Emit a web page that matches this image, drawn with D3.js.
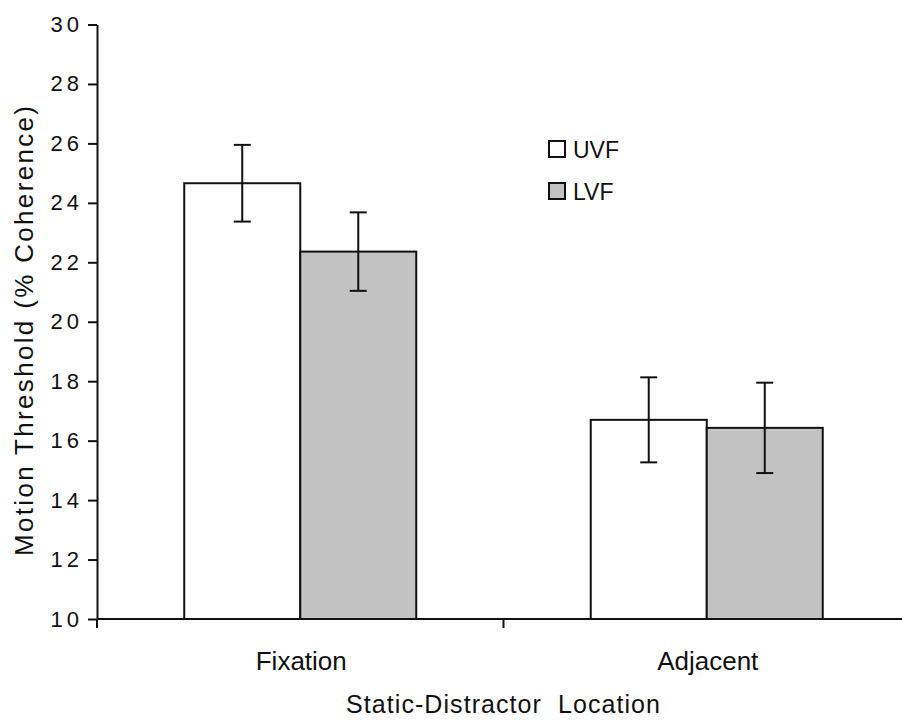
<!DOCTYPE html>
<html>
<head>
<meta charset="utf-8">
<script src="https://cdn.jsdelivr.net/npm/d3@7"></script>
<style>
  html, body { margin: 0; padding: 0; background: #fff; }
  svg { display: block; }
  text { font-family: "Liberation Sans", Arial, Helvetica, sans-serif; fill: #111; }
</style>
</head>
<body>
<svg id="chart" width="902" height="722"></svg>
<script>
// Motion thresholds by static-distractor location and visual field
const categories = ["Fixation", "Adjacent"];
const seriesNames = ["UVF", "LVF"];
const uvfValues = [24.66, 16.70];
const lvfValues = [22.36, 16.43];
const uvfErrors = [1.29, 1.43];
const lvfErrors = [1.32, 1.52];
const yTicks = [10, 12, 14, 16, 18, 20, 22, 24, 26, 28, 30];
const seriesFill = ["#ffffff", "#c2c2c2"];

const rows = categories.map((c, i) => ({
  category: c,
  bars: [
    { series: seriesNames[0], value: uvfValues[i], err: uvfErrors[i] },
    { series: seriesNames[1], value: lvfValues[i], err: lvfErrors[i] }
  ]
}));

const svg = d3.select("#chart");
const plotLeft = 97, plotRight = 910, plotTop = 24.5, plotBottom = 619;

const x0 = d3.scaleBand().domain(categories).range([plotLeft, plotRight]).paddingInner(0).paddingOuter(0);
const x1 = d3.scaleBand().domain(seriesNames).range([0, x0.bandwidth()]).paddingInner(0).paddingOuter(0.752);
const y = d3.scaleLinear().domain([10, 30]).range([plotBottom, plotTop]);
const fill = d3.scaleOrdinal().domain(seriesNames).range(seriesFill);

// bars
const groups = svg.append("g").selectAll("g").data(rows).join("g")
  .attr("transform", d => `translate(${x0(d.category)},0)`);

groups.selectAll("rect").data(d => d.bars).join("rect")
  .attr("x", d => x1(d.series))
  .attr("y", d => y(d.value))
  .attr("width", x1.bandwidth())
  .attr("height", d => y(10) - y(d.value))
  .attr("fill", d => fill(d.series))
  .attr("stroke", "#111")
  .attr("stroke-width", 2);

// error bars
const eb = groups.selectAll("g.err").data(d => d.bars).join("g").attr("class", "err")
  .attr("stroke", "#111").attr("stroke-width", 2);
const cx = d => x1(d.series) + x1.bandwidth() / 2;
eb.append("line").attr("x1", cx).attr("x2", cx)
  .attr("y1", d => y(d.value + d.err)).attr("y2", d => y(d.value - d.err));
eb.append("line").attr("x1", d => cx(d) - 8.5).attr("x2", d => cx(d) + 8.5)
  .attr("y1", d => y(d.value + d.err)).attr("y2", d => y(d.value + d.err));
eb.append("line").attr("x1", d => cx(d) - 8.5).attr("x2", d => cx(d) + 8.5)
  .attr("y1", d => y(d.value - d.err)).attr("y2", d => y(d.value - d.err));

// y axis
const yAxis = svg.append("g").attr("transform", `translate(${plotLeft},0)`)
  .call(d3.axisLeft(y).tickValues(yTicks).tickSize(9).tickPadding(5).tickSizeOuter(0));
yAxis.select(".domain").attr("stroke", "#111").attr("stroke-width", 2);
yAxis.selectAll(".tick line").attr("stroke", "#111").attr("stroke-width", 2);
yAxis.selectAll(".tick text")
  .attr("font-size", 22).attr("letter-spacing", "4px").attr("fill", "#111")
  .style("font-family", "'Liberation Sans', Arial, sans-serif");

// x axis: ticks at category boundaries
const xAxis = svg.append("g").attr("transform", `translate(0,${plotBottom})`);
xAxis.append("line").attr("x1", plotLeft).attr("x2", plotRight).attr("y1", 0).attr("y2", 0)
  .attr("stroke", "#111").attr("stroke-width", 2);
const boundaries = [x0(categories[0]), x0(categories[1]), x0(categories[1]) + x0.bandwidth()];
xAxis.selectAll("line.tk").data(boundaries).join("line").attr("class", "tk")
  .attr("x1", d => d).attr("x2", d => d).attr("y1", 0).attr("y2", 9)
  .attr("stroke", "#111").attr("stroke-width", 2);
xAxis.selectAll("text").data(categories).join("text")
  .attr("x", d => x0(d) + x0.bandwidth() / 2 + 1)
  .attr("y", 51)
  .attr("text-anchor", "middle")
  .attr("font-size", 26)
  .text(d => d);

// axis titles
svg.append("text")
  .attr("x", 503).attr("y", 713)
  .attr("text-anchor", "middle")
  .attr("font-size", 25)
  .attr("textLength", 314).attr("lengthAdjust", "spacing")
  .attr("xml:space", "preserve")
  .text("Static-Distractor  Location");

svg.append("text")
  .attr("transform", "translate(33,331) rotate(-90)")
  .attr("text-anchor", "middle")
  .attr("font-size", 26)
  .attr("textLength", 450).attr("lengthAdjust", "spacing")
  .text("Motion Threshold (% Coherence)");

// legend
const legend = svg.append("g").attr("transform", "translate(549,141)");
const li = legend.selectAll("g").data(seriesNames).join("g")
  .attr("transform", (d, i) => `translate(0,${i * 42})`);
li.append("rect").attr("width", 16).attr("height", 16)
  .attr("fill", d => fill(d)).attr("stroke", "#111").attr("stroke-width", 2);
li.append("text").attr("x", 24).attr("y", 17)
  .attr("font-size", 23).text(d => d);
</script>
</body>
</html>
